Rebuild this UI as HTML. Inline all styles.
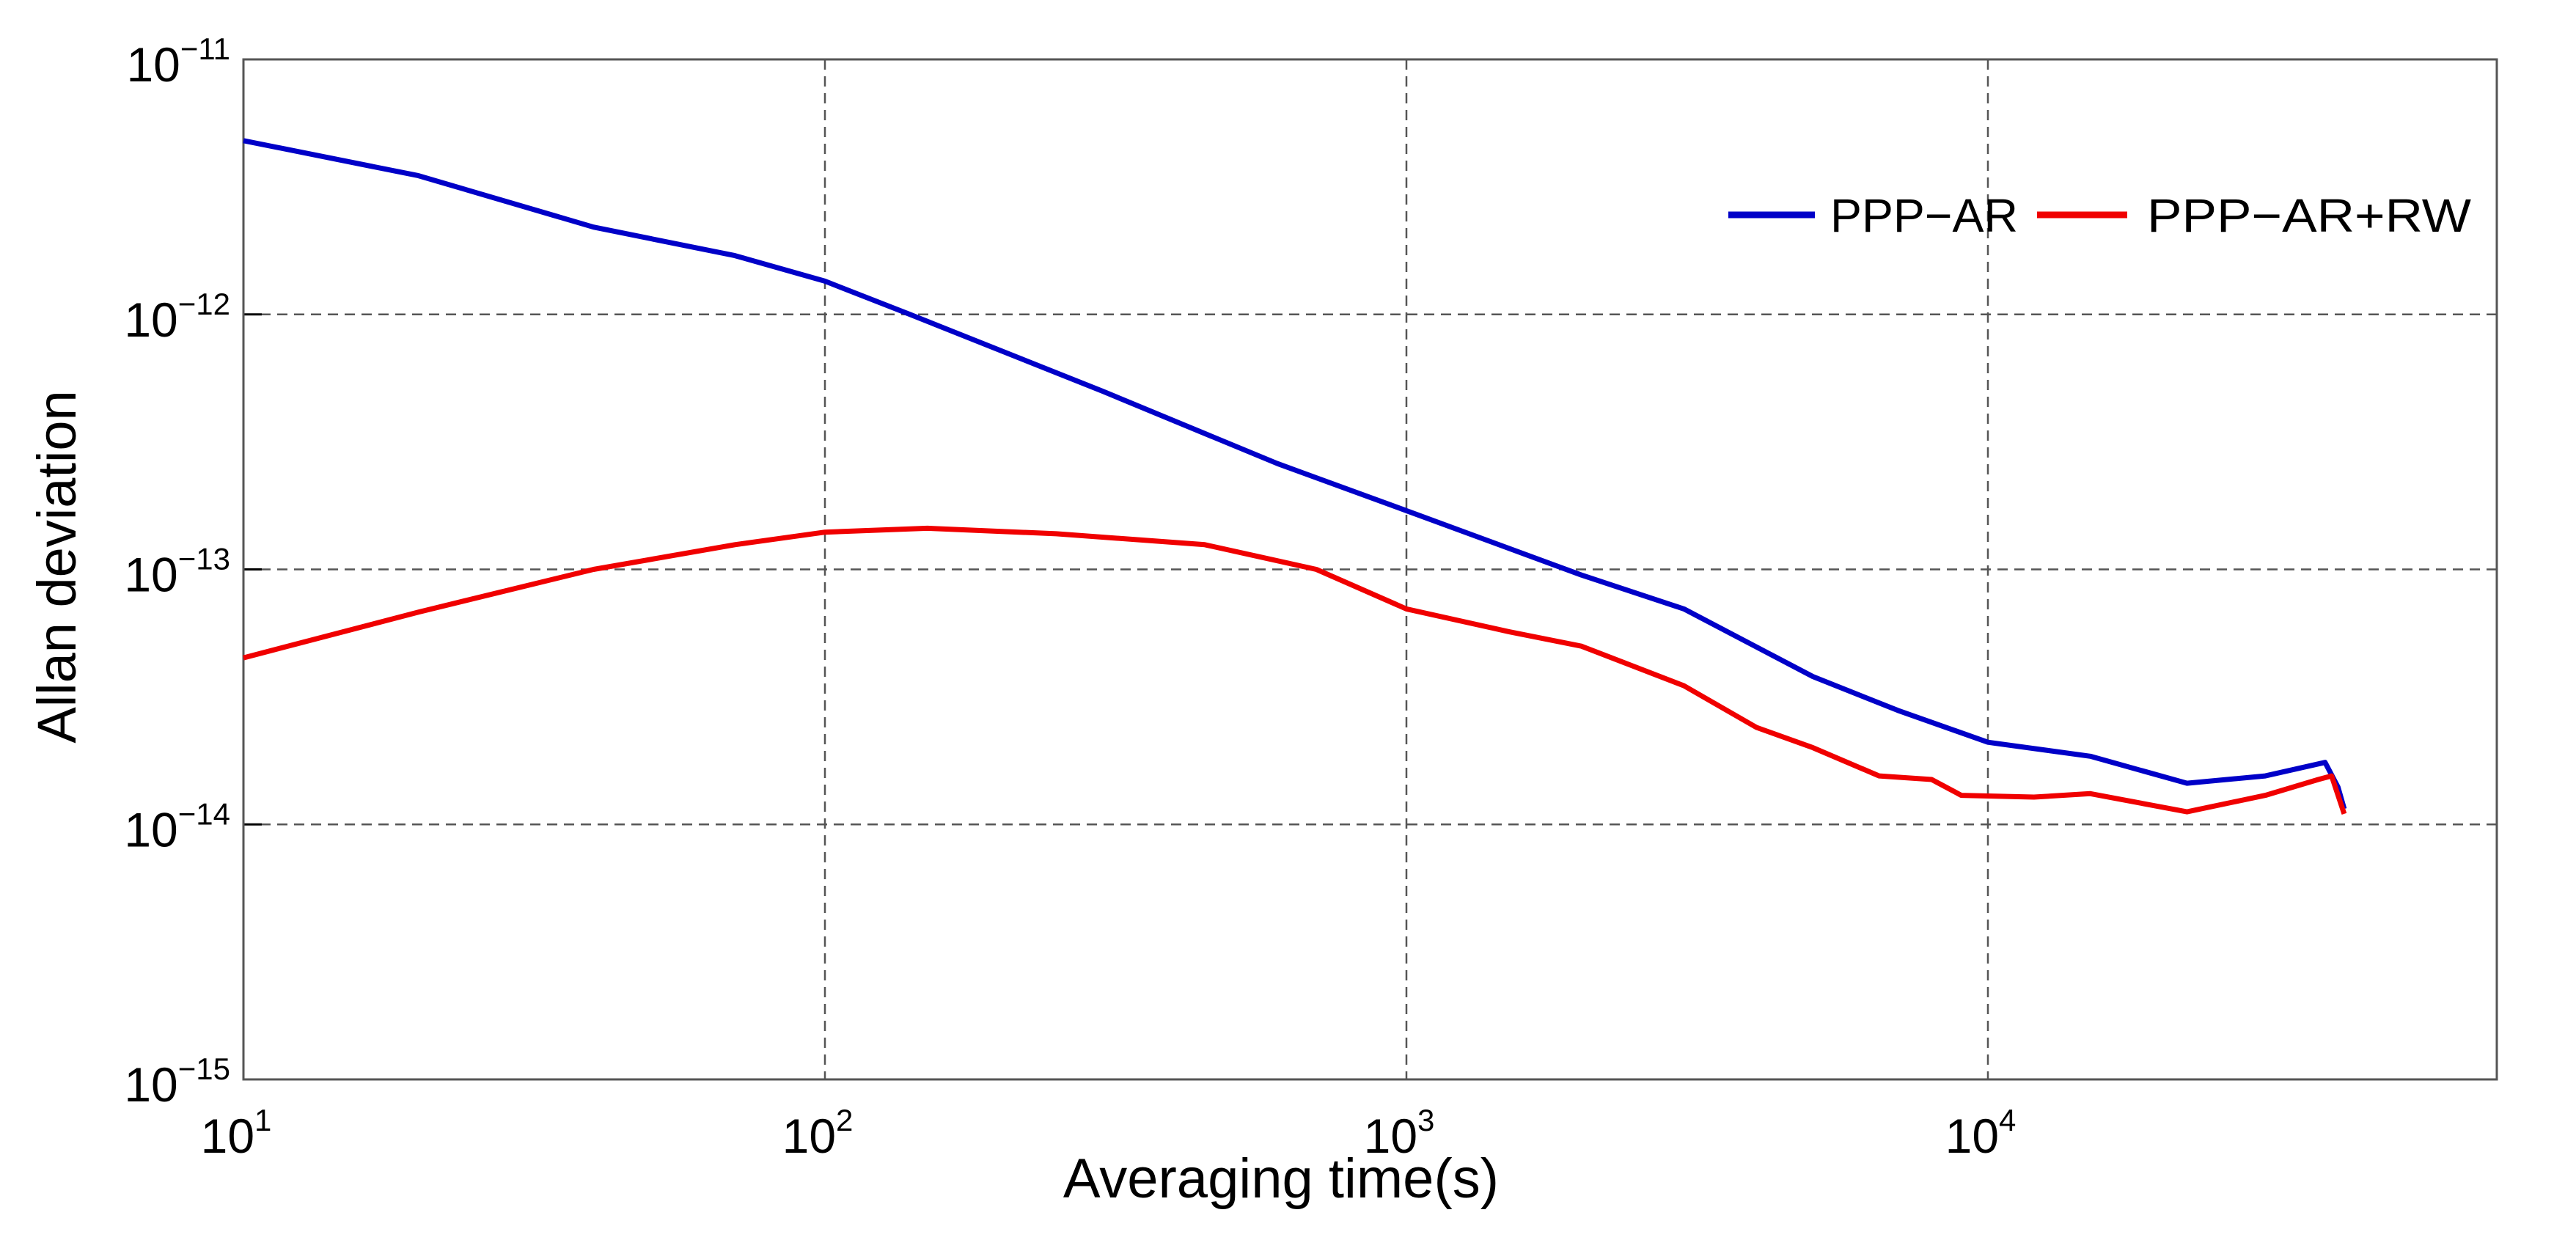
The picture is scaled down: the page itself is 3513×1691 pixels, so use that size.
<!DOCTYPE html>
<html><head><meta charset="utf-8"><style>
html,body{margin:0;padding:0;background:#fff;}
svg{display:block;font-family:"Liberation Sans",sans-serif;}
</style></head><body>
<svg id="chart" width="3513" height="1691" viewBox="0 0 3513 1691" xmlns="http://www.w3.org/2000/svg">
<g id="grid"></g>
<g id="axes"></g>
<g id="series"></g>
<text x="0" y="0" transform="translate(103,773) rotate(-90)" text-anchor="middle" font-size="74">Allan deviation</text>
<text x="1747" y="1633" text-anchor="middle" font-size="76">Averaging time(s)</text>
<g>
<line x1="2357" y1="293" x2="2475" y2="293" stroke="#0000c8" stroke-width="9"/>
<text x="2496" y="316" font-size="64" textLength="256" lengthAdjust="spacingAndGlyphs">PPP−AR</text>
<line x1="2778" y1="293" x2="2901" y2="293" stroke="#f00000" stroke-width="9"/>
<text x="2928" y="316" font-size="64" textLength="442" lengthAdjust="spacingAndGlyphs">PPP−AR+RW</text>
</g>
</svg>
<script>
const xTickExps = [1, 2, 3, 4];
const yTickExps = [-11, -12, -13, -14, -15];
const blueX = [10,20,40,70,100,140,300,600,1000,2000,3000,5000,7000,10000,15000,22000,30000,38000,40000,41000];
const blueY = [4.8e-12,3.5e-12,2.2e-12,1.7e-12,1.35e-12,1.0e-12,5e-13,2.6e-13,1.7e-13,9.5e-14,7e-14,3.8e-14,2.8e-14,2.1e-14,1.85e-14,1.45e-14,1.55e-14,1.75e-14,1.4e-14,1.15e-14];
const redX = [10,20,40,70,100,150,250,450,700,1000,1500,2000,3000,4000,5000,6500,8000,9000,12000,15000,22000,30000,37000,39000,41000];
const redY = [4.5e-14,6.8e-14,1.0e-13,1.25e-13,1.4e-13,1.45e-13,1.38e-13,1.25e-13,1.0e-13,7e-14,5.7e-14,5e-14,3.5e-14,2.4e-14,2.0e-14,1.55e-14,1.5e-14,1.3e-14,1.28e-14,1.32e-14,1.12e-14,1.3e-14,1.5e-14,1.55e-14,1.1e-14];

const L=332, R=3405, T=81, B=1472, DX=793, DY=(B-T)/4;
const NS="http://www.w3.org/2000/svg";
function xs(v){return L+(Math.log10(v)-1)*DX;}
function ys(v){return T+(-11-Math.log10(v))*DY;}
function mk(tag,attrs,parent){const e=document.createElementNS(NS,tag);for(const k in attrs)e.setAttribute(k,attrs[k]);parent.appendChild(e);return e;}
const grid=document.getElementById('grid'), axes=document.getElementById('axes'), series=document.getElementById('series');

xTickExps.forEach(p=>{
  const x=xs(Math.pow(10,p));
  if(p>1){
    const g=mk('line',{x1:x,y1:T,x2:x,y2:B,stroke:'#555','stroke-width':2.5,'stroke-dasharray':'14 9'},grid);
    
    
  }
  const t=mk('text',{x:x-10,y:1572,'text-anchor':'middle','font-size':66},axes);
  
  
  t.textContent='10';
  const s=mk('tspan',{dy:-30,'font-size':42},t);s.textContent=String(p);
});
yTickExps.forEach(p=>{
  const y=ys(Math.pow(10,p));
  if(p<-11 && p>-15){
    const g=mk('line',{x1:L,y1:y,x2:R,y2:y,stroke:'#555','stroke-width':2.5,'stroke-dasharray':'14 9'},grid);
    
    
    const tk=mk('line',{x1:L,y1:y,x2:L+25,y2:y,stroke:'#000','stroke-width':3},axes);
    
    
  }
  const t=mk('text',{x:314,y:y+30,'text-anchor':'end','font-size':66},axes);
  
  
  t.textContent='10';
  const s=mk('tspan',{dy:-30,'font-size':42},t);s.textContent='−'+String(-p);
});
const box=mk('rect',{x:L,y:T,width:R-L,height:B-T,fill:'none',stroke:'#555','stroke-width':3},axes);



function path(X,Y,color,name){
  const d=X.map((v,i)=>(i?'L':'M')+xs(v).toFixed(1)+','+ys(Y[i]).toFixed(1)).join(' ');
  const p=mk('path',{d:d,fill:'none',stroke:color,'stroke-width':7,'stroke-linejoin':'round'},series);
  
  
}
path(blueX,blueY,'#0000c8','series-ppp-ar');
path(redX,redY,'#f00000','series-ppp-ar-rw');
</script>
</body></html>
